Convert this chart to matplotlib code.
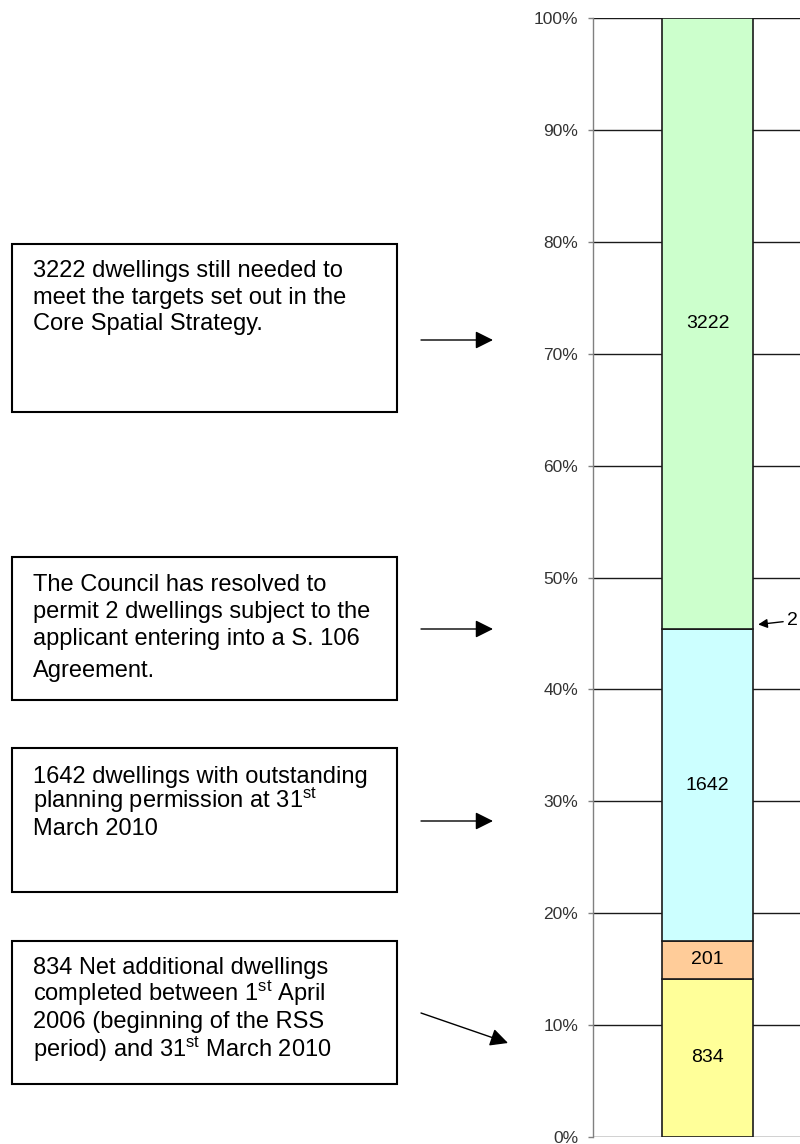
import numpy as np
import matplotlib.pyplot as plt
from matplotlib.patches import Rectangle

plt.rcParams['font.family'] = ['Liberation Sans', 'DejaVu Sans']
plt.rcParams['mathtext.default'] = 'regular'

# data to plot, stacked bottom to top
segments = ['Net additional completed', 'Other', 'Outstanding permission',
            'Resolved subject to S.106', 'Still needed']
dwellings = [834, 201, 1642, 2, 3222]
seg_colors = ['#FFFF99', '#FFCC99', '#CCFFFF', '#99CCFF', '#CCFFCC']
seg_labels = ['834', '201', '1642', '', '3222']
ytick_vals = np.arange(0, 101, 10)
ytick_labels = ['%d%%' % v for v in ytick_vals]

# note boxes: (text lines with baselines in pixels)
notes = [
    [('3222 dwellings still needed to', 277),
     ('meet the targets set out in the', 304),
     ('Core Spatial Strategy.', 330)],
    [('The Council has resolved to', 591),
     ('permit 2 dwellings subject to the', 618),
     ('applicant entering into a S. 106', 645),
     ('Agreement.', 677)],
    [('1642 dwellings with outstanding', 783),
     ('planning permission at 31$^{st}$', 808),
     ('March 2010', 835)],
    [('834 Net additional dwellings', 974),
     ('completed between 1$^{st}$ April', 1001),
     ('2006 (beginning of the RSS', 1028),
     ('period) and 31$^{st}$ March 2010', 1057)],
]
boxes = [(12, 244, 397, 412), (12, 557, 397, 700),
         (12, 748, 397, 892), (12, 941, 397, 1084)]
arrows = [((421, 340), (493, 340)), ((421, 629), (493, 629)),
          ((421, 821), (493, 821)), ((421, 1013), (508, 1043))]

total = float(sum(dwellings))
shares = [100.0 * d / total for d in dwellings]
bottoms = np.concatenate([[0], np.cumsum(shares)[:-1]])

W, H = 800, 1144
fig = plt.figure(figsize=(W / 100, H / 100), dpi=100)
ax = fig.add_axes([593 / W, 7 / H, 1 - 593 / W, 1119 / H])

bar_x = 0.553
bar_w = 0.44
for share, bottom, col, lab in zip(shares, bottoms, seg_colors, seg_labels):
    bars = ax.bar(bar_x, share, bar_w, bottom=bottom, color=col,
                  edgecolor='#1a1a1a', linewidth=1.2, zorder=3)
    if lab:
        ax.bar_label(bars, labels=[lab], label_type='center', fontsize=14)

# the tiny "2" segment gets a pointer
top2 = bottoms[3] + shares[3]
ax.annotate('2', xy=(bar_x + bar_w / 2 + 0.025, top2 + 0.4),
            xytext=(0.965, top2 + 0.75), ha='center', va='center',
            fontsize=14, annotation_clip=False,
            arrowprops=dict(arrowstyle='-|>,head_length=0.6,head_width=0.3',
                            mutation_scale=9, color='black', lw=1,
                            shrinkA=1, shrinkB=0))

ax.set_xlim(0, 1)
ax.set_ylim(0, 100)
ax.set_yticks(ytick_vals)
ax.set_yticklabels(ytick_labels)
ax.set_xticks([])
ax.yaxis.grid(True, color='#1a1a1a', linewidth=1)
ax.set_axisbelow(True)
ax.tick_params(axis='y', direction='out', length=3.6, width=1,
               color='#808080', labelcolor='#333333', labelsize=12.5, pad=7)
for s in ['top', 'right', 'bottom']:
    ax.spines[s].set_visible(False)
ax.spines['left'].set_color('#808080')
ax.spines['left'].set_linewidth(1)

# overlay in pixel coordinates for the note boxes
ov = fig.add_axes([0, 0, 1, 1])
ov.set_xlim(0, W)
ov.set_ylim(H, 0)
ov.axis('off')
ov.patch.set_alpha(0)

for (x0, y0, x1, y1), lines in zip(boxes, notes):
    ov.add_patch(Rectangle((x0, y0), x1 - x0, y1 - y0, fill=False,
                           edgecolor='black', linewidth=1.5))
    for txt, yb in lines:
        ov.text(x0 + 21, yb, txt, fontsize=17, ha='left', va='baseline')

for start, end in arrows:
    ov.annotate('', xy=end, xytext=start,
                arrowprops=dict(arrowstyle='-|>,head_length=0.6,head_width=0.3',
                                mutation_scale=18, color='black', lw=1,
                                shrinkA=0, shrinkB=0))

fig.savefig('out.png', dpi=100)
